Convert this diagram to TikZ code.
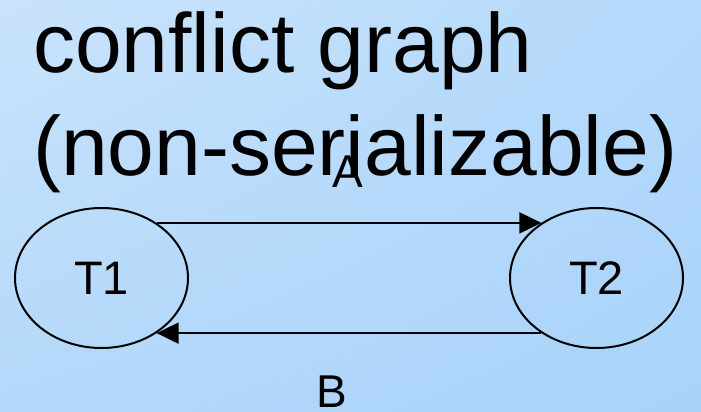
\documentclass[tikz,border=0pt]{standalone}
\usepackage{fontspec}
\setmainfont{Liberation Sans}
\usetikzlibrary{arrows.meta,shapes.geometric,shadings}
\definecolor{bgtl}{HTML}{CAE3FB}
\definecolor{bgtr}{HTML}{B4D9FB}
\definecolor{bgbl}{HTML}{B3D8FA}
\definecolor{bgbr}{HTML}{A9D3FA}
\begin{document}
\begin{tikzpicture}[x=1pt,y=-1pt,
  txn/.style={draw=black, line width=2pt, ellipse, minimum width=173pt, minimum height=140pt, inner sep=0pt, font=\fontsize{47}{50}\selectfont},
  conflict/.style={line width=2pt, -{Triangle[length=22pt,width=21pt]}},
  lbl/.style={anchor=base, inner sep=0pt, font=\fontsize{46}{50}\selectfont},
  ttl/.style={anchor=base west, inner sep=0pt, font=\fontsize{84}{100}\selectfont}]
\shade[upper left=bgtl, upper right=bgtr, lower left=bgbl, lower right=bgbr] (0,0) rectangle (701,412);
\useasboundingbox (0,0) rectangle (701,412);
\node[ttl] (title1) at (33,72) {conflict graph};
\node[ttl] (title2) at (33,175) {(non-serializable)};
\node[txn] (T1) at (101.5,278) {T1};
\node[txn] (T2) at (596.5,278) {T2};
\draw[conflict] (T1.45) -- (T2.135);
\draw[conflict] (T2.-135) -- (T1.-45);
\node[lbl] (A) at (347.5,187) {A};
\node[lbl] (B) at (332,407) {B};
\end{tikzpicture}
\end{document}
